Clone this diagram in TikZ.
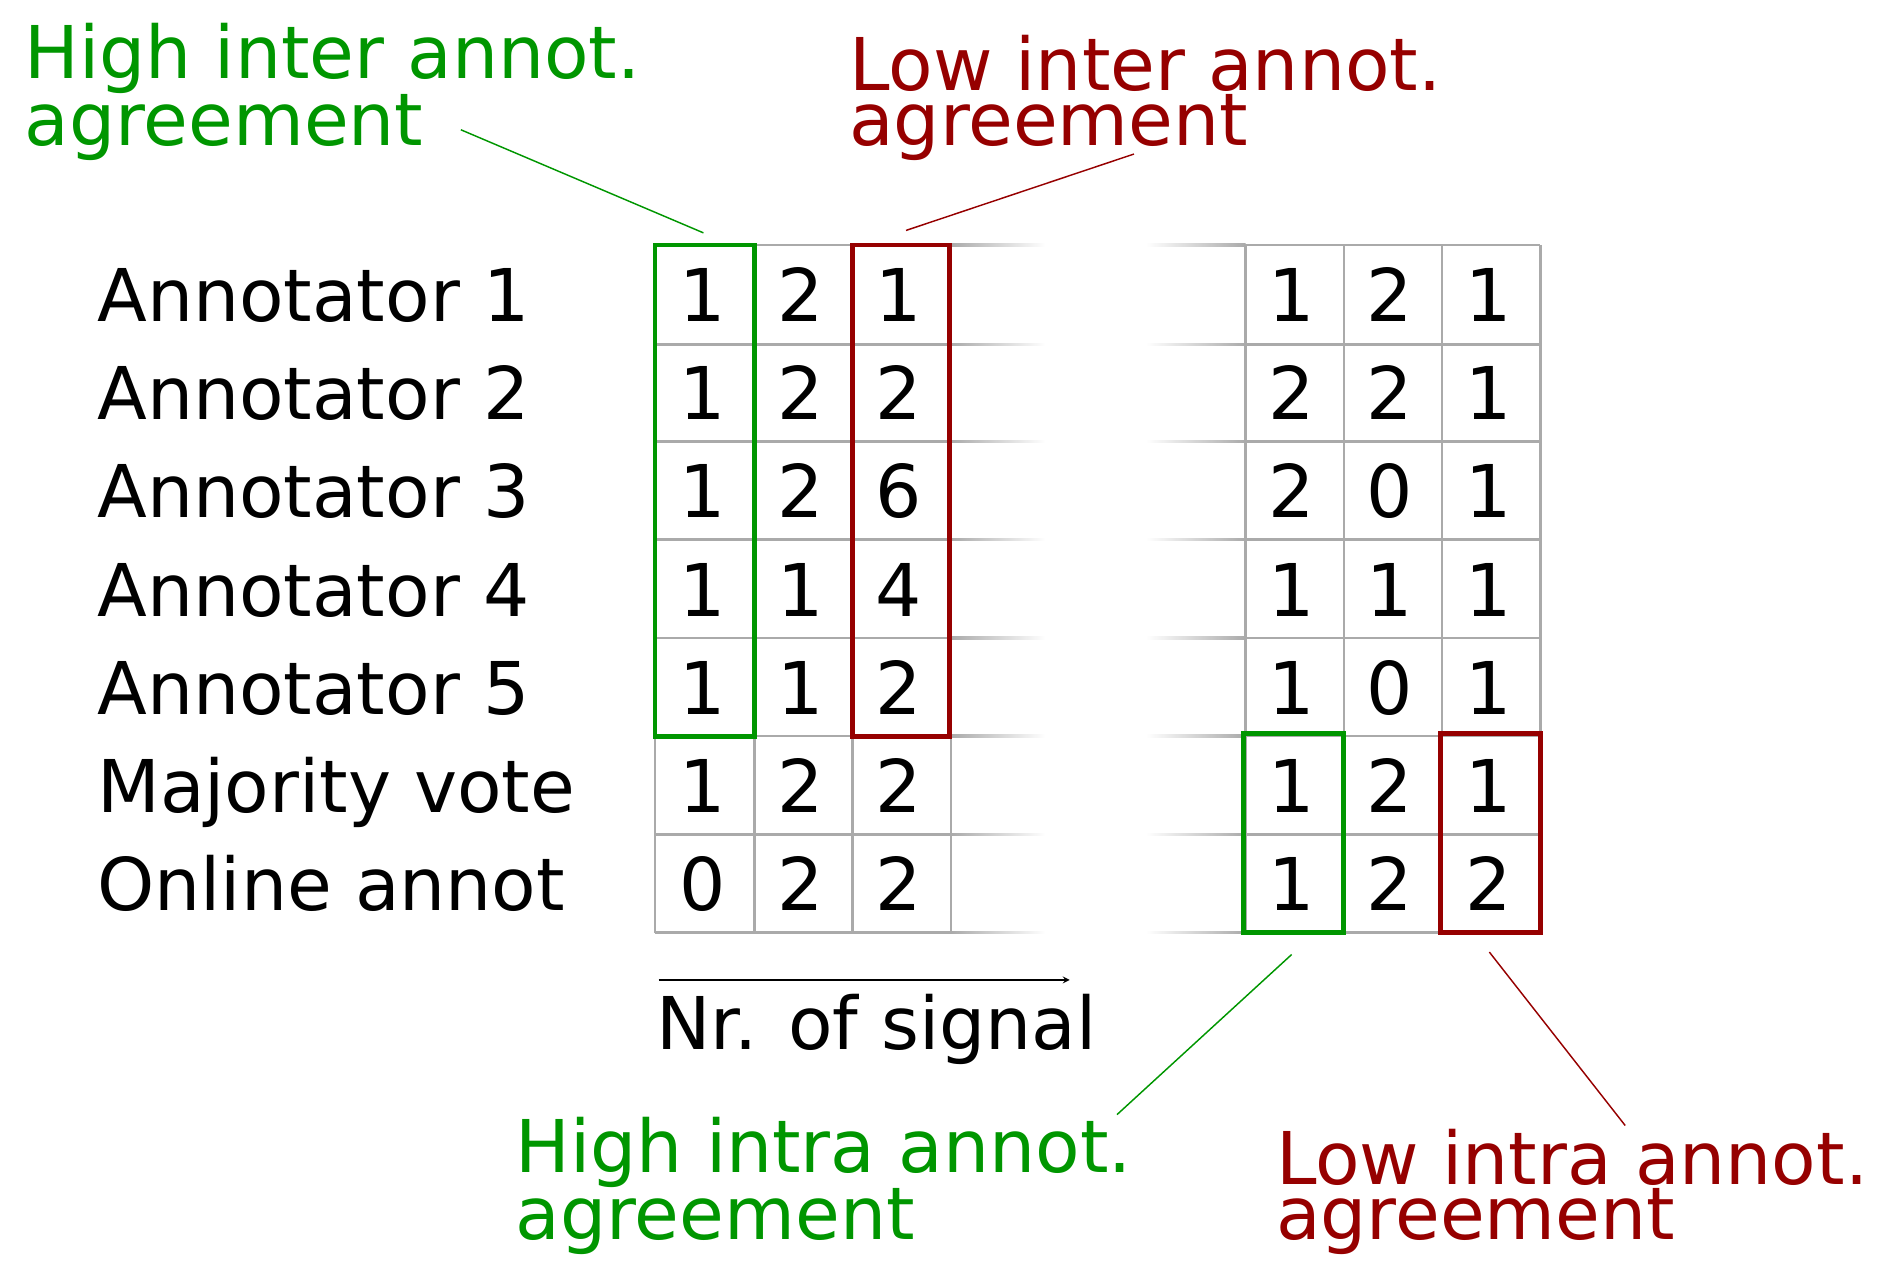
\documentclass[tikz,border=0pt]{standalone}
\usepackage{fontspec}
\setmainfont{DejaVu Sans}
\definecolor{gr}{RGB}{0,150,0}
\definecolor{rd}{RGB}{150,0,0}
\definecolor{gl}{RGB}{170,170,170}
\begin{document}
\begin{tikzpicture}[x=1pt,y=-1pt,
  txt/.style={inner sep=0,anchor=base west,font=\fontsize{60}{45}\selectfont,align=left},
  dig/.style={inner sep=0,anchor=base,font=\fontsize{60}{45}\selectfont},
  gline/.style={draw=gl,line width=2},
  gbox/.style={draw=gr,line width=4},
  rbox/.style={draw=rd,line width=4}]
\useasboundingbox (0,0) rectangle (1560,1044);
% grids
\foreach \y in {202,284,364,445,526,607,688,769}{
  \draw[gline] (540,\y) -- (784,\y);
  \shade[left color=gl,right color=white] (784,\y-1) rectangle (862,\y+1);
  \draw[gline] (1027,\y) -- (1270,\y);
  \shade[left color=white,right color=gl] (945,\y-1) rectangle (1027,\y+1);
}
\foreach \x in {540,622,703,784}{\draw[gline] (\x,202) -- (\x,769);}
\foreach \x in {1027,1108,1189,1270}{\draw[gline] (\x,202) -- (\x,769);}
% labels
\foreach \t [count=\i] in {Annotator 1,Annotator 2,Annotator 3,Annotator 4,Annotator 5,Majority vote,Online annot}{
  \node[txt] (l\i) at (80,{265+81*(\i-1)}) {\t};}
\foreach \r [count=\i] in {{1,2,1},{1,2,2},{1,2,6},{1,1,4},{1,1,2},{1,2,2},{0,2,2}}{
  \foreach \v [count=\j] in \r {\node[dig] (a\i\j) at ({579+81*(\j-1)},{265+81*(\i-1)}) {\v};}}
\foreach \r [count=\i] in {{1,2,1},{2,2,1},{2,0,1},{1,1,1},{1,0,1},{1,2,1},{1,2,2}}{
  \foreach \v [count=\j] in \r {\node[dig] (b\i\j) at ({1065+81*(\j-1)},{265+81*(\i-1)}) {\v};}}
% boxes
\draw[gbox] (540,202) rectangle (622,607);
\draw[rbox] (703,202) rectangle (783,607);
\draw[gbox] (1025,605) rectangle (1108,769);
\draw[rbox] (1188,605) rectangle (1270,769);
% top callouts
\node[txt,text=gr] (hi) at (20,120) {High inter annot.\\agreement};
\node[txt,text=rd] (li) at (700,120) {Low inter annot.\\agreement};
\coordinate (hia) at (380,107); \coordinate (hib) at (580,192);
\coordinate (lia) at (935,127); \coordinate (lib) at (747,190);
\draw[gr,line width=1.2] (hia) -- (hib);
\draw[rd,line width=1.2] (lia) -- (lib);
% bottom callouts
\node[txt,text=gr] (hr) at (425,1022) {High intra annot.\\agreement};
\node[txt,text=rd] (lr) at (1052,1022) {Low intra annot.\\agreement};
\coordinate (hra) at (1065,787); \coordinate (hrb) at (921,919);
\coordinate (lra) at (1228,785); \coordinate (lrb) at (1340,928);
\draw[gr,line width=1.2] (hra) -- (hrb);
\draw[rd,line width=1.2] (lra) -- (lrb);
% arrow
\coordinate (s0) at (543,808); \coordinate (s1) at (882,808);
\draw[-stealth,line width=1.5] (s0) -- (s1);
\node[txt] (nr) at (541,865) {Nr. of signal};
\end{tikzpicture}
\end{document}
